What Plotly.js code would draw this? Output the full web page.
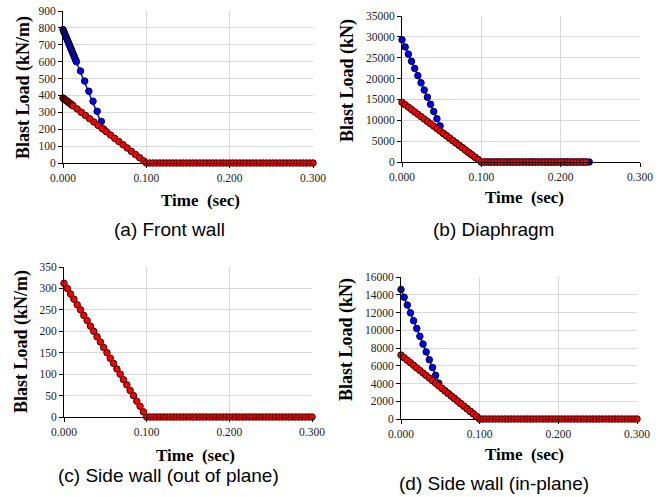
<!DOCTYPE html>
<html>
<head>
<meta charset="utf-8">
<script src="https://cdn.plot.ly/plotly-3.0.1.min.js"></script>
<style>html,body{margin:0;padding:0;background:#fff;}#chart{width:669px;height:497px;}</style>
</head>
<body>
<div id="chart"></div>
<script>
// ---------- DATA ----------
const xTickVals = [0, 0.1, 0.2, 0.3];
const xTickLabels = ["0.000", "0.100", "0.200", "0.300"];

// common time base (4 ms step)
const time4ms = [0,0.004,0.008,0.012,0.016,0.020,0.024,0.028,0.032,0.036,0.040,0.044,0.048,0.052,0.056,0.060,0.064,0.068,0.072,0.076,0.080,0.084,0.088,0.092,0.096,0.100,
  0.104,0.108,0.112,0.116,0.120,0.124,0.128,0.132,0.136,0.140,0.144,0.148,0.152,0.156,0.160,0.164,0.168,0.172,0.176,0.180,0.184,0.188,0.192,0.196,0.200,
  0.204,0.208,0.212,0.216,0.220,0.224,0.228,0.232,0.236,0.240,0.244,0.248,0.252,0.256,0.260,0.264,0.268,0.272,0.276,0.280,0.284,0.288,0.292,0.296,0.300];
// zero load after the positive phase (0.104 s to 0.300 s)
const zeroTail = [0,0,0,0,0,0,0,0,0,0, 0,0,0,0,0,0,0,0,0,0, 0,0,0,0,0,0,0,0,0,0, 0,0,0,0,0,0,0,0,0,0, 0,0,0,0,0,0,0,0,0,0];

// (a) Front wall
const timeA_blue = [0,0.001,0.002,0.003,0.004,0.005,0.006,0.007,0.008,0.009,0.010,0.011,0.012,0.013,0.014,0.015,0.016,0.021,0.026,0.031,0.036,0.041,0.046,0.049];
const loadA_blue = [790,778,766,754,742,731,719,707,695,683,671,659,647,636,624,612,600,545,485,425,366,306,246,200];
const timeA_redHead = [0,0.001,0.002,0.003,0.004,0.005,0.006,0.007,0.008,0.009,0.010,0.011,0.012,
  0.017,0.022,0.027,0.032,0.037,0.042,0.047,0.052,0.057,0.062,0.067,0.072,0.077,0.082,0.087,0.092,0.097,0.100];
const loadA_redHead = [385,381,377,373,369,366,362,358,354,350,346,343,339,
  320,300,281,262,243,223,204,185,166,146,127,108,89,69,50,31,12,0];

// (b) Diaphragm (0 - 0.100 s), zeros follow until 0.232 s (red) / 0.236 s (blue)
const loadB_redHead = [14300,13730,13160,12580,12010,11440,10870,10300,9720,9150,8580,8010,7440,6860,6290,5720,5150,4580,4000,3430,2860,2290,1720,1140,570,0];
const loadB_blueHead = [29300,27580,25860,24140,22420,20700,18980,17260,15540,13820,12100,10380,8660,
  6860,6290,5720,5150,4580,4000,3430,2860,2290,1720,1140,570,0];

// (c) Side wall (out of plane)
const loadC_redHead = [312,300,287,275,262,250,237,225,212,200,187,175,162,150,137,125,112,100,87,75,62,50,37,25,12,0];

// (d) Side wall (in-plane)
const loadD_redHead = [7200,6910,6620,6340,6050,5760,5470,5180,4900,4610,4320,4030,3740,3460,3170,2880,2590,2300,2020,1730,1440,1150,860,580,290,0];
const loadD_blue = [14600,13720,12840,11960,11080,10200,9320,8440,7560,6680,5800,4920,4040,
  3460,3170,2880,2590,2300,2020,1730,1440,1150,860,580,290,0];

const captions = ["(a) Front wall", "(b) Diaphragm", "(c) Side wall (out of plane)", "(d) Side wall (in-plane)"];
const yTitles = ["Blast Load (kN/m)", "Blast Load (kN)", "Blast Load (kN/m)", "Blast Load (kN)"];
const xTitle = "Time  (sec)";

// ---------- STYLE ----------
const W = 669, H = 497;
const RED = '#ff0000', BLUE = '#0000ff';
function series(x, y, color, outline, xa, ya) {
  return {x: x, y: y, type: 'scatter', mode: 'lines+markers', xaxis: xa, yaxis: ya,
    line: {color: color, width: 1.5},
    marker: {symbol: 'circle', size: 6.5, color: color, line: {color: outline, width: 1}},
    hoverinfo: 'skip', cliponaxis: false};
}
const loadB_red = loadB_redHead.concat(zeroTail.slice(0, 33));
const loadB_blue = loadB_blueHead.concat(zeroTail.slice(0, 34));
const traces = [
  series(timeA_blue, loadA_blue, BLUE, '#000030', 'x', 'y'),
  series(timeA_redHead.concat(time4ms.slice(26)), loadA_redHead.concat(zeroTail), RED, '#3a0000', 'x', 'y'),
  series(time4ms.slice(0, loadB_blue.length), loadB_blue, BLUE, '#000030', 'x2', 'y2'),
  series(time4ms.slice(0, loadB_red.length), loadB_red, RED, '#3a0000', 'x2', 'y2'),
  series(time4ms, loadC_redHead.concat(zeroTail), RED, '#3a0000', 'x3', 'y3'),
  series(time4ms.slice(0, loadD_blue.length), loadD_blue, BLUE, '#000030', 'x4', 'y4'),
  series(time4ms, loadD_redHead.concat(zeroTail), RED, '#3a0000', 'x4', 'y4')
];

const tickFont = {family: 'Liberation Serif, Times New Roman, serif', size: 11.5, color: '#222'};
function xax(x0, x1, anchor) {
  return {domain: [x0 / W, x1 / W], anchor: anchor, range: [0, 0.3],
    tickmode: 'array', tickvals: xTickVals, ticktext: xTickLabels,
    showgrid: true, gridcolor: '#d9d9d9', gridwidth: 1,
    showline: true, linecolor: '#000', linewidth: 1,
    ticks: 'outside', ticklen: 4, tickcolor: '#000', tickfont: tickFont,
    zeroline: false, fixedrange: true};
}
function yax(yTop, yBot, anchor, max, dt) {
  return {domain: [1 - yBot / H, 1 - yTop / H], anchor: anchor, range: [0, max], dtick: dt, tick0: 0,
    tickformat: 'd', showgrid: true, gridcolor: '#d9d9d9', gridwidth: 1,
    showline: true, linecolor: '#000', linewidth: 1,
    ticks: 'outside', ticklen: 4, tickcolor: '#000', tickfont: tickFont,
    zeroline: false, fixedrange: true};
}

const xTitleFont = {family: 'Liberation Serif, Times New Roman, serif', size: 17, color: '#000'};
const yTitleFont = {family: 'Liberation Serif, Times New Roman, serif', size: 18, color: '#000'};
const capFont = {family: 'Liberation Sans, Arial, sans-serif', size: 19, color: '#000'};
function ann(text, px, py, font, angle) {
  return {text: text, x: px / W, y: 1 - py / H, xref: 'paper', yref: 'paper',
    xanchor: 'center', yanchor: 'middle', showarrow: false, font: font, textangle: angle || 0};
}
const annotations = [
  ann('<b>' + xTitle + '</b>', 200, 200, xTitleFont),
  ann('<b>' + xTitle + '</b>', 524, 198, xTitleFont),
  ann('<b>' + xTitle + '</b>', 196, 455, xTitleFont),
  ann('<b>' + xTitle + '</b>', 524, 454, xTitleFont),
  ann('<b>' + yTitles[0] + '</b>', 23, 88, yTitleFont, -90),
  ann('<b>' + yTitles[1] + '</b>', 347, 81, yTitleFont, -90),
  ann('<b>' + yTitles[2] + '</b>', 21, 342, yTitleFont, -90),
  ann('<b>' + yTitles[3] + '</b>', 346, 340, yTitleFont, -90),
  ann(captions[0], 169, 230, capFont),
  ann(captions[1], 494, 230, capFont),
  ann(captions[2], 168, 475, capFont),
  ann(captions[3], 494, 483, capFont)
];

const layout = {
  width: W, height: H, margin: {l: 0, r: 0, t: 0, b: 0},
  paper_bgcolor: '#fff', plot_bgcolor: '#fff', showlegend: false,
  xaxis: xax(63, 313, 'y'), yaxis: yax(11, 163, 'x', 900, 100),
  xaxis2: xax(402, 640, 'y2'), yaxis2: yax(16, 162, 'x2', 35000, 5000),
  xaxis3: xax(64, 312, 'y3'), yaxis3: yax(267, 417, 'x3', 350, 50),
  xaxis4: xax(401, 637, 'y4'), yaxis4: yax(277, 419, 'x4', 16000, 2000),
  annotations: annotations
};
Plotly.newPlot('chart', traces, layout, {staticPlot: true, displayModeBar: false});
</script>
</body>
</html>
